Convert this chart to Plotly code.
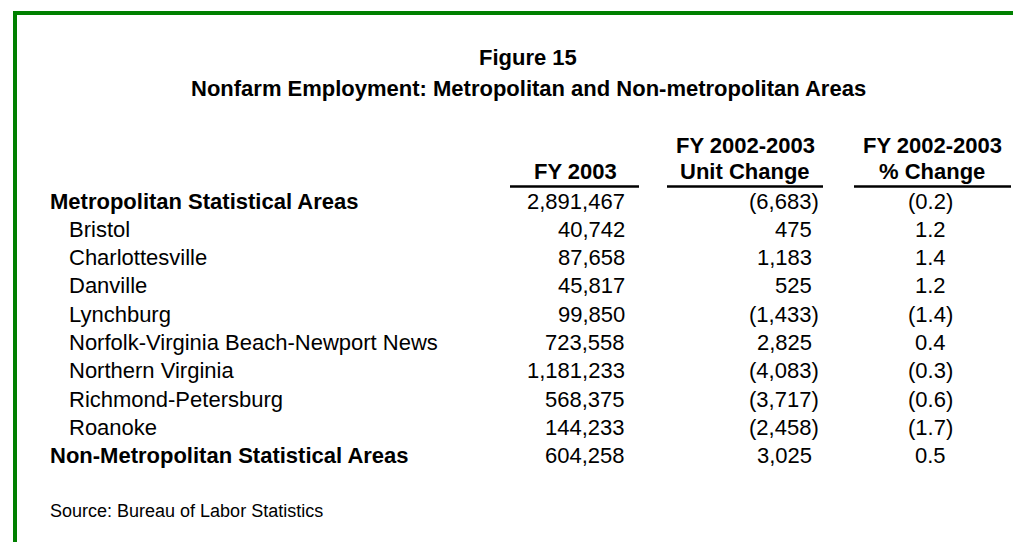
import plotly.graph_objects as go

# ---- data ----
title_lines = ["Figure 15", "Nonfarm Employment: Metropolitan and Non-metropolitan Areas"]
areas = ["Metropolitan Statistical Areas", "Bristol", "Charlottesville", "Danville", "Lynchburg",
         "Norfolk-Virginia Beach-Newport News", "Northern Virginia", "Richmond-Petersburg",
         "Roanoke", "Non-Metropolitan Statistical Areas"]
is_total = [True, False, False, False, False, False, False, False, False, True]
fy2003 = [2891467, 40742, 87658, 45817, 99850, 723558, 1181233, 568375, 144233, 604258]
unit_change = [-6683, 475, 1183, 525, -1433, 2825, -4083, -3717, -2458, 3025]
pct_change = [-0.2, 1.2, 1.4, 1.2, -1.4, 0.4, -0.3, -0.6, -1.7, 0.5]
col_headers = [["FY 2003"], ["FY 2002-2003", "Unit Change"], ["FY 2002-2003", "% Change"]]
source = "Source: Bureau of Labor Statistics"

# ---- layout constants ----
W, H = 1021, 542
FONT = "Arial, Liberation Sans, Helvetica, sans-serif"
FS = 22
title_y = [49, 80]
row_y0, row_dy = 193, 28.3
label_x_bold, label_x_ind = 40, 59
col_right = [619, 813, 947]          # right edge incl. closing paren
col_center = [567, 737, 924]
ul = [(502, 631), (659, 815), (846, 1003)]
ul_y = 178.5
hdr_y = [137, 163]

HIDDEN = '<span style="color:rgba(0,0,0,0)">)</span>'


def acct(v, fmt):
    s = format(abs(v), fmt)
    return f"({s})" if v < 0 else s + HIDDEN


fig = go.Figure()
ann = []

# title
for i, t in enumerate(title_lines):
    ann.append(dict(x=520, y=title_y[i], text=f"<b>{t}</b>", showarrow=False,
                    xanchor="center", yanchor="middle", font=dict(size=FS, family=FONT, color="black")))

# column headers
for c, lines in enumerate(col_headers):
    for k, t in enumerate(lines):
        y = hdr_y[1] if len(lines) == 1 else hdr_y[k]
        ann.append(dict(x=col_center[c], y=y, text=f"<b>{t}</b>", showarrow=False,
                        xanchor="center", yanchor="middle", font=dict(size=FS, family=FONT, color="black")))

# rows
for i, name in enumerate(areas):
    y = row_y0 + i * row_dy
    if is_total[i]:
        ann.append(dict(x=label_x_bold, y=y, text=f"<b>{name}</b>", showarrow=False,
                        xanchor="left", yanchor="middle", font=dict(size=FS, family=FONT, color="black")))
    else:
        ann.append(dict(x=label_x_ind, y=y, text=name, showarrow=False,
                        xanchor="left", yanchor="middle", font=dict(size=FS, family=FONT, color="black")))
    vals = [format(fy2003[i], ","), acct(unit_change[i], ","), acct(pct_change[i], ".1f")]
    for c, t in enumerate(vals):
        xr = col_right[c]
        ann.append(dict(x=xr, y=y, text=t, showarrow=False, xanchor="right", yanchor="middle",
                        font=dict(size=FS, family=FONT, color="black")))

# source
ann.append(dict(x=40, y=503, text=source, showarrow=False, xanchor="left", yanchor="middle",
                font=dict(size=18, family=FONT, color="black")))

shapes = []
for (x0, x1) in ul:
    shapes.append(dict(type="line", x0=x0, x1=x1, y0=ul_y, y1=ul_y, xref="x", yref="y",
                       line=dict(color="black", width=2.5)))
# green frame (top and left)
shapes.append(dict(type="line", x0=5, x1=W, y0=5, y1=5, xref="x", yref="y",
                   line=dict(color="#008000", width=4)))
shapes.append(dict(type="line", x0=7, x1=7, y0=3, y1=H, xref="x", yref="y",
                   line=dict(color="#008000", width=4)))

fig.update_layout(
    width=W, height=H, margin=dict(l=0, r=0, t=0, b=0),
    paper_bgcolor="white", plot_bgcolor="white",
    xaxis=dict(range=[0, W], visible=False, fixedrange=True),
    yaxis=dict(range=[H, 0], visible=False, fixedrange=True),
    annotations=ann, shapes=shapes, showlegend=False,
)
fig.write_html("out.html", config={"displayModeBar": False})
